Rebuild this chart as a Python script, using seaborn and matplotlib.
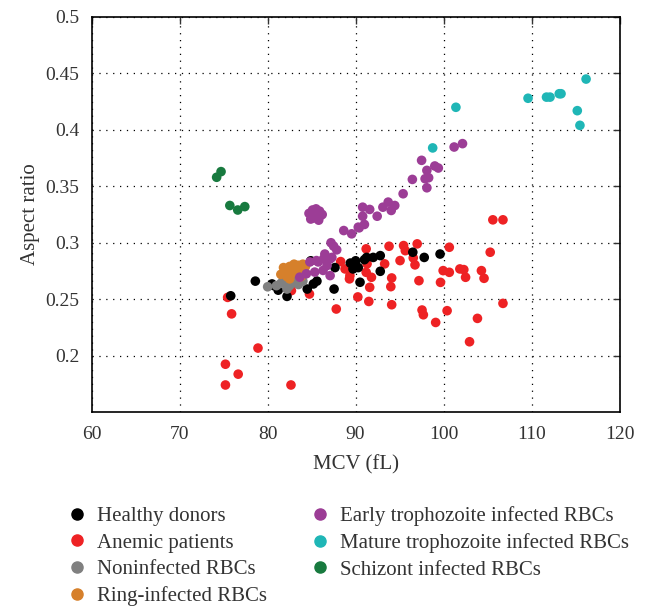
import pandas as pd
import matplotlib
matplotlib.use('Agg')
import matplotlib.pyplot as plt
import seaborn as sns

# Values: MCV (fL) and aspect ratio per group
healthy_x = [75.8, 78.6, 80.5, 80.7, 81.2, 82.2, 84.5, 85.2, 85.6, 84.9, 87.55, 87.65, 89.4,
             89.95, 90.3, 89.7, 90.5, 91.25, 92.0, 92.8, 92.8, 96.5, 97.8, 99.6, 91.0, 90.0]
healthy_y = [0.253, 0.266, 0.2635, 0.262, 0.258, 0.2525, 0.259, 0.2635, 0.266, 0.284, 0.259, 0.278, 0.282,
             0.2807, 0.278, 0.2768, 0.265, 0.287, 0.287, 0.2886, 0.2747, 0.2916, 0.287, 0.290, 0.285, 0.284]

anemic_x = [75.45, 75.9, 78.9, 75.2, 76.65, 75.2, 82.65, 84.75, 87.8, 88.3, 88.8, 89.35, 90.25, 82.7,
            105.6, 106.75, 105.3, 100.65, 97.0, 95.45, 95.65, 93.8, 91.2, 96.55, 96.75, 95.05, 93.3,
            91.3, 89.3, 91.2, 91.8, 91.6, 94.1, 94.0, 97.2, 99.95, 100.65, 101.85, 102.3, 102.5,
            104.3, 104.6, 99.65, 91.5, 94.1, 97.55, 97.7, 100.4, 106.75, 103.85, 99.1, 102.95]
anemic_y = [0.2516, 0.237, 0.2067, 0.1924, 0.1836, 0.174, 0.174, 0.2546, 0.2413, 0.2833, 0.2768, 0.2709, 0.252, 0.2576,
            0.3203, 0.3203, 0.2916, 0.296, 0.299, 0.2975, 0.293, 0.2969, 0.2946, 0.2866, 0.2804, 0.2842, 0.2813,
            0.2813, 0.268, 0.2738, 0.2694, 0.2605, 0.2688, 0.2611, 0.2664, 0.2753, 0.2738, 0.2768, 0.2762, 0.2694,
            0.2753, 0.2685, 0.2649, 0.248, 0.2451, 0.2404, 0.2362, 0.2398, 0.2463, 0.233, 0.2294, 0.2123]

noninf_x = [80.0, 81.0, 81.5, 82.0, 82.5, 83.0, 82.2, 83.5, 81.8, 84.0, 82.8]
noninf_y = [0.261, 0.262, 0.264, 0.266, 0.262, 0.265, 0.259, 0.263, 0.268, 0.266, 0.268]

ring_x = [81.5, 82.0, 82.5, 83.0, 83.5, 84.0, 82.2, 82.8, 83.3, 84.0, 81.8, 82.5, 83.8, 84.3]
ring_y = [0.272, 0.276, 0.279, 0.281, 0.280, 0.281, 0.270, 0.273, 0.275, 0.276, 0.278, 0.268, 0.270, 0.279]

early_x = [84.7, 85.1, 85.5, 85.9, 86.2, 85.3, 84.9, 85.8, 86.0,
           88.65, 89.55, 90.3, 101.2, 102.15, 97.5, 98.1, 99.0, 99.4, 97.9, 98.3, 96.45, 98.1,
           95.4, 93.1, 93.7, 94.45, 94.05, 90.8, 91.6, 90.8, 92.45, 91.0, 90.4, 87.2, 87.5, 87.85,
           87.1, 83.65, 84.4, 85.35, 86.3, 85.55, 86.35, 87.1, 86.75, 86.5, 87.3, 84.8, 85.75]
early_y = [0.326, 0.329, 0.330, 0.328, 0.325, 0.322, 0.321, 0.320, 0.324,
           0.3108, 0.3079, 0.3138, 0.3848, 0.3878, 0.373, 0.3641, 0.368, 0.3662, 0.3567, 0.3576, 0.3561, 0.3487,
           0.3434, 0.3315, 0.336, 0.333, 0.3286, 0.3315, 0.3295, 0.3235, 0.3235, 0.3162, 0.3132, 0.300, 0.297, 0.2937,
           0.2709, 0.2695, 0.2725, 0.274, 0.2755, 0.2842, 0.2857, 0.2857, 0.2798, 0.290, 0.287, 0.283, 0.283]

mature_x = [109.6, 111.7, 112.1, 113.15, 113.35, 115.2, 115.5, 116.2, 101.4, 98.76]
mature_y = [0.428, 0.429, 0.429, 0.432, 0.432, 0.417, 0.404, 0.445, 0.420, 0.384]

schizont_x = [74.2, 74.7, 75.7, 76.6, 77.4]
schizont_y = [0.358, 0.363, 0.333, 0.329, 0.332]

groups = ['Healthy donors', 'Anemic patients', 'Noninfected RBCs', 'Ring-infected RBCs',
          'Early trophozoite infected RBCs', 'Mature trophozoite infected RBCs', 'Schizont infected RBCs']
colors = ['#000000', '#ee2224', '#808080', '#d6802b', '#9c3d96', '#1fb6b6', '#187a3f']


def build_frame():
    series = [(healthy_x, healthy_y), (anemic_x, anemic_y), (noninf_x, noninf_y), (ring_x, ring_y),
              (early_x, early_y), (mature_x, mature_y), (schizont_x, schizont_y)]
    frames = []
    for name, (xs, ys) in zip(groups, series):
        frames.append(pd.DataFrame({'MCV': xs, 'AR': ys, 'group': name}))
    return frames


sns.set_style('white')
plt.rcParams['font.family'] = ['Liberation Serif', 'DejaVu Serif']
plt.rcParams['font.size'] = 14

fig = plt.figure(figsize=(6.46, 6.06), dpi=100)
ax = fig.add_axes([0.142, 0.320, 0.817, 0.652])

frames = build_frame()
# draw red first so the other groups sit on top of it
draw_order = [1, 0, 2, 3, 4, 5, 6]
df = pd.concat([frames[i] for i in draw_order], ignore_index=True)
palette = dict(zip(groups, colors))

sns.scatterplot(data=df, x='MCV', y='AR', hue='group', hue_order=groups, palette=palette,
                s=48, linewidth=0, alpha=1, ax=ax, legend=False, zorder=3)

ax.set_xlim(60, 120)
ax.set_ylim(0.15, 0.5)
ax.set_xticks([60, 70, 80, 90, 100, 110, 120])
ax.set_yticks([0.2, 0.25, 0.3, 0.35, 0.4, 0.45, 0.5])
ax.set_yticklabels(['0.2', '0.25', '0.3', '0.35', '0.4', '0.45', '0.5'])
ax.grid(True, linestyle=(0, (1, 4.5)), color='black', linewidth=0.9)
ax.tick_params(direction='in', top=True, right=True, length=5, width=1, labelsize=14, colors='#333333')
ax.tick_params(axis='x', pad=10)
ax.tick_params(axis='y', pad=9)
for side in ax.spines.values():
    side.set_color('black')
    side.set_linewidth(1.2)
ax.set_xlabel('MCV (fL)', fontsize=15, color='#333333', labelpad=9)
ax.set_ylabel('Aspect ratio', fontsize=15, color='#333333')

handles = [plt.Line2D([], [], marker='o', linestyle='', color=c, markersize=8) for c in colors]
fig.legend(handles, groups, loc='upper left', bbox_to_anchor=(0.1068, 0.165), ncol=2, frameon=False,
           fontsize=15, handlelength=0.8, handletextpad=0.56, columnspacing=2.15, labelspacing=0.34,
           borderpad=0, borderaxespad=0, labelcolor='#333333')

plt.savefig('out.png', dpi=100)
